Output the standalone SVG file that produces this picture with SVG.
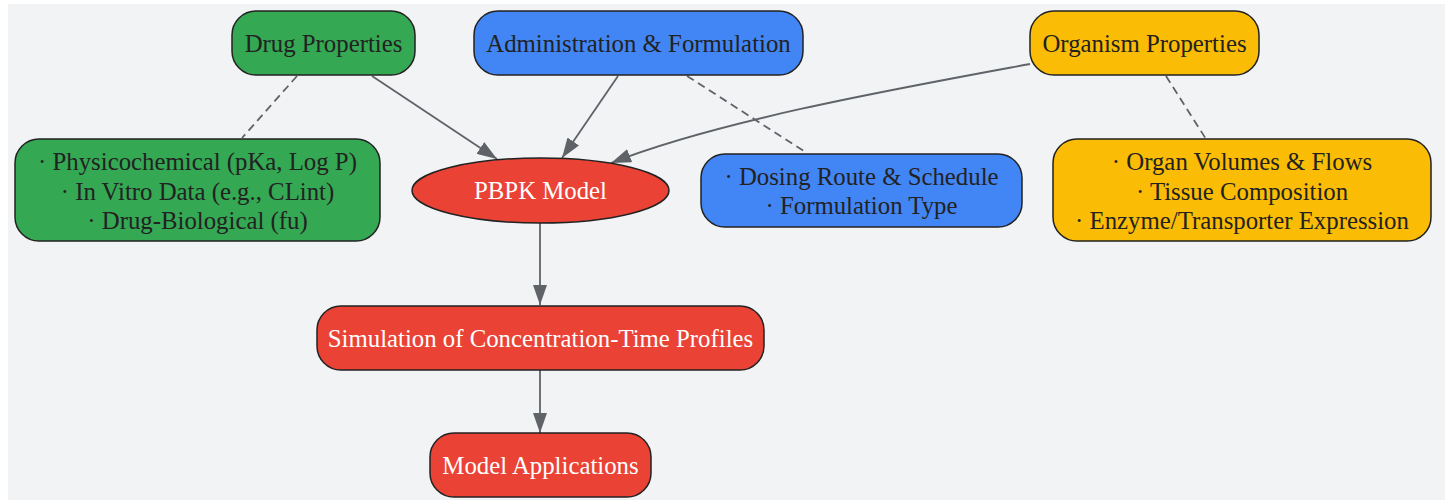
<svg xmlns="http://www.w3.org/2000/svg" width="1445" height="500" viewBox="0 0 1445 500">
<defs>
<style>
.n{stroke:#222;stroke-width:1.5}
.g{fill:#34a853}.b{fill:#4285f4}.y{fill:#fbbc05}.r{fill:#ea4335}
text{font-family:"Liberation Serif","Times New Roman",serif;font-size:24.8px;text-anchor:middle}
.dk{fill:#222}.wt{fill:#fff}
.e{fill:none;stroke:#5f6368;stroke-width:1.8}
.d{stroke-dasharray:8,5}
</style>
<marker id="ah" viewBox="0 0 20 14" refX="20" refY="7" markerWidth="20" markerHeight="14" markerUnits="userSpaceOnUse" orient="auto">
<path d="M0,0 L20,7 L0,14 Z" fill="#5f6368"/>
</marker>
</defs>
<rect x="0" y="0" width="1445" height="500" fill="#fff"/>
<rect x="8" y="4" width="1437" height="496" fill="#f1f3f5"/>
<g id="connectors">
<path class="e" d="M372,76 L497,159" marker-end="url(#ah)"/>
<path class="e" d="M618,76 L562,158" marker-end="url(#ah)"/>
<path class="e" d="M1030,64 C900,88 720,120 611,163" marker-end="url(#ah)"/>
<path class="e d" d="M297,76 L242,138"/>
<path class="e d" d="M687,76 L807,153"/>
<path class="e d" d="M1166,76 L1206,139"/>
<path class="e" d="M540,223 L540,305" marker-end="url(#ah)"/>
<path class="e" d="M540,370 L540,433" marker-end="url(#ah)"/>
</g>
<g id="drug">
<rect class="n g" x="232" y="11" width="183" height="64" rx="24"/>
<text class="dk" x="323.5" y="52">Drug Properties</text>
</g>
<g id="admin">
<rect class="n b" x="474" y="11" width="329" height="64" rx="24"/>
<text class="dk" x="638.5" y="52">Administration &amp; Formulation</text>
</g>
<g id="organism">
<rect class="n y" x="1030" y="11" width="229" height="64" rx="24"/>
<text class="dk" x="1144.5" y="52">Organism Properties</text>
</g>
<g id="drugDetails">
<rect class="n g" x="15" y="139" width="365" height="102" rx="24"/>
<text class="dk" x="197.5" y="170">· Physicochemical (pKa, Log P)</text>
<text class="dk" x="197.5" y="200">· In Vitro Data (e.g., CLint)</text>
<text class="dk" x="197.5" y="229">· Drug-Biological (fu)</text>
</g>
<g id="pbpk">
<ellipse class="n r" cx="540.5" cy="190.5" rx="128.5" ry="32.5"/>
<text class="wt" x="540.5" y="199">PBPK Model</text>
</g>
<g id="dosing">
<rect class="n b" x="701" y="154" width="321" height="73" rx="24"/>
<text class="dk" x="861.5" y="185">· Dosing Route &amp; Schedule</text>
<text class="dk" x="861.5" y="214">· Formulation Type</text>
</g>
<g id="organDetails">
<rect class="n y" x="1053" y="139" width="378" height="102" rx="24"/>
<text class="dk" x="1242" y="170">· Organ Volumes &amp; Flows</text>
<text class="dk" x="1242" y="200">· Tissue Composition</text>
<text class="dk" x="1242" y="229">· Enzyme/Transporter Expression</text>
</g>
<g id="simulation">
<rect class="n r" x="317" y="306" width="447" height="64" rx="24"/>
<text class="wt" x="540.5" y="347">Simulation of Concentration-Time Profiles</text>
</g>
<g id="applications">
<rect class="n r" x="430" y="433" width="221" height="64" rx="24"/>
<text class="wt" x="540.5" y="474">Model Applications</text>
</g>
</svg>
